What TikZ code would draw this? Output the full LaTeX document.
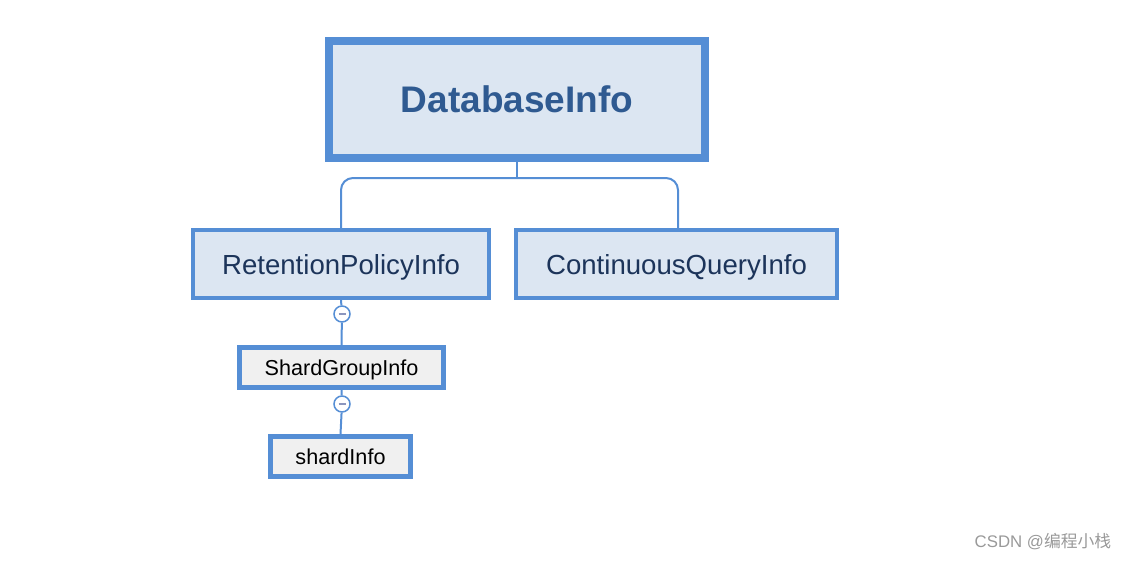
\documentclass[tikz,border=0pt]{standalone}
\usepackage{fontspec}
\setmainfont{Liberation Sans}
\newfontfamily\cjk{Noto Sans CJK SC}
\usepackage{tikz}
\usetikzlibrary{calc, positioning}
\usepackage{xcolor}
\definecolor{boxBlue}{RGB}{85, 142, 213}
\definecolor{boxFill}{RGB}{220, 230, 242}
\definecolor{titleText}{RGB}{47, 90, 145}
\definecolor{childText}{RGB}{28, 52, 90}
\definecolor{leafFill}{RGB}{240, 240, 240}
\definecolor{minusGray}{RGB}{140, 150, 190}

\begin{document}
\begin{tikzpicture}[
  x=1pt, y=-1pt,
  root/.style={rectangle, draw=boxBlue, fill=boxFill, line width=8pt, minimum width=376pt, minimum height=117pt, text depth=0pt, text=titleText, font=\fontsize{37}{44}\selectfont\bfseries},
  child/.style={rectangle, draw=boxBlue, fill=boxFill, line width=4pt, minimum height=68pt, text depth=0pt, text=childText, font=\fontsize{27.6}{33}\selectfont},
  leaf/.style={rectangle, draw=boxBlue, fill=leafFill, line width=5pt, minimum height=40pt, text depth=0pt, text=black, font=\fontsize{21.6}{26}\selectfont},
  fold/.style={circle, draw=boxBlue, fill=white, line width=1.5pt, minimum size=16pt, inner sep=0pt},
  link/.style={draw=boxBlue, line width=2pt}
]
  \useasboundingbox (0,0) rectangle (1128,560);

  \node[root] (db) at (517,99.5) {DatabaseInfo};
  \node[child, minimum width=296pt] (rp) at (341,264) {RetentionPolicyInfo};
  \node[child, minimum width=321pt] (cq) at (676.5,264) {ContinuousQueryInfo};
  \node[leaf, minimum width=204pt] (sg) at (341.5,367.5) {ShardGroupInfo};
  \node[leaf, minimum width=140pt] (si) at (340.5,456.5) {shardInfo};

  % collapse buttons
  \node[fold] (f1) at (342,314) {\color{minusGray}\rule{7pt}{1.5pt}};
  \node[fold] (f2) at (342,404) {\color{minusGray}\rule{7pt}{1.5pt}};

  % tree links
  \coordinate (split) at (517,178);
  \draw[link] (db.south) -- (split);
  \draw[link, rounded corners=12pt] (split) -| (rp.north);
  \draw[link, rounded corners=12pt] (split) -| ($(cq.north)+(1.5,0)$);
  \draw[link] (rp.south) -- (f1);
  \draw[link] (f1) -- (sg.north);
  \draw[link] (sg.south) -- (f2);
  \draw[link] (f2) -- (si.north);

  \node[text=gray!80, font=\fontsize{16.8}{20}\selectfont, inner sep=0pt] (mark) at (1043,542) {CSDN @{\cjk 编程小栈}};
\end{tikzpicture}
\end{document}
